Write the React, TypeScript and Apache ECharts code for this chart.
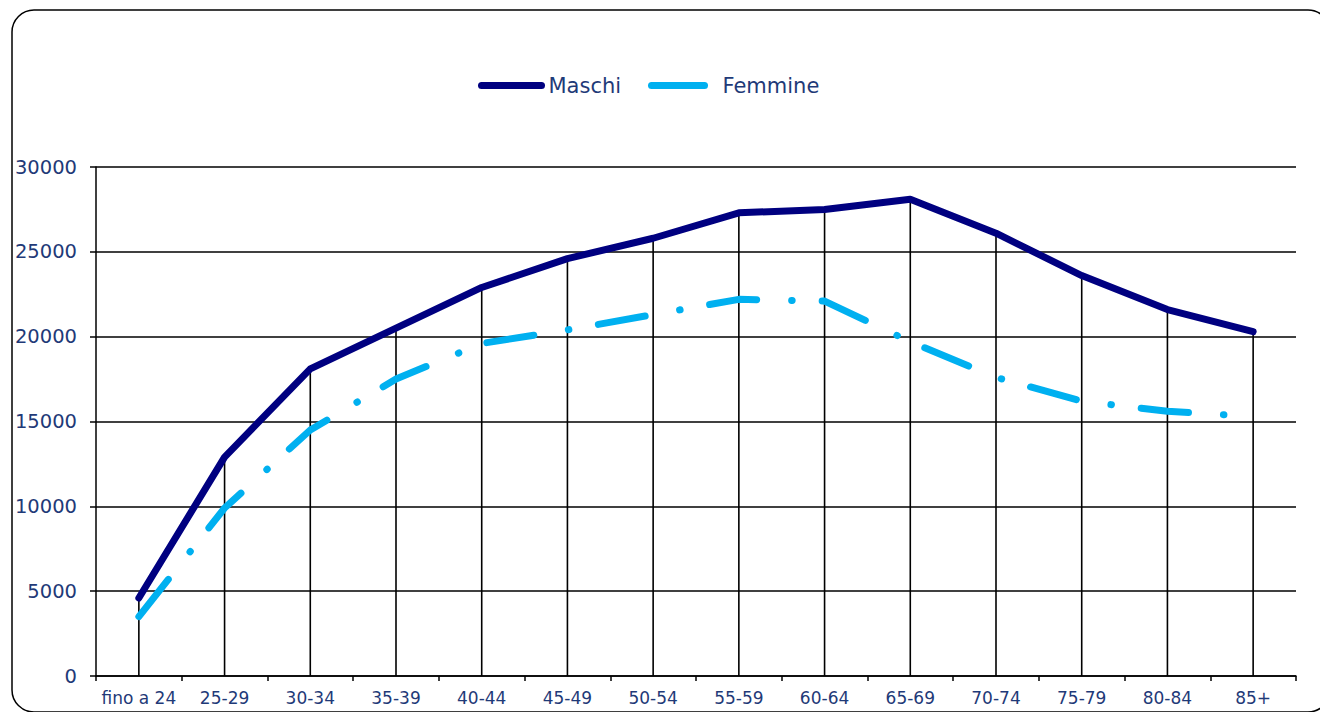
import React, { useEffect, useRef } from "react";
import * as echarts from "echarts";

const categories = [
  "fino a 24", "25-29", "30-34", "35-39", "40-44", "45-49", "50-54",
  "55-59", "60-64", "65-69", "70-74", "75-79", "80-84", "85+",
];
const maschi = [4600, 12900, 18100, 20500, 22900, 24600, 25800, 27300, 27500, 28100, 26100, 23600, 21600, 20300];
const femmine = [3500, 9900, 14500, 17500, 19600, 20400, 21300, 22200, 22100, 19700, 17600, 16200, 15600, 15300];
const yMin = 0;
const yMax = 30000;
const yStep = 5000;

const TEXT = "#1F3A78";
const FONT = "DejaVu Sans";

export default function App() {
  const ref = useRef<HTMLDivElement>(null);
  useEffect(() => {
    const chart = echarts.init(ref.current!, null, { renderer: "svg" });
    chart.setOption({
      animation: false,
      backgroundColor: "#ffffff",
      graphic: [
        {
          type: "rect",
          shape: { x: 12, y: 10, width: 1318, height: 702, r: 22 },
          style: { fill: "none", stroke: "#000", lineWidth: 1.5 },
          silent: true,
          z: 0,
        },
      ],
      legend: [
        {
          data: [{ name: "Maschi" }],
          left: 478,
          top: 75,
          padding: 0,
          itemWidth: 60,
          itemHeight: 21,
          itemStyle: { opacity: 0 },
          lineStyle: { width: 7, type: "solid", cap: "round", opacity: 1 },
          textStyle: { color: TEXT, fontFamily: FONT, fontSize: 21, lineHeight: 21, padding: [0, 0, 0, 2] },
        },
        {
          data: [{ name: "Femmine" }],
          left: 648,
          top: 75,
          padding: 0,
          itemWidth: 53,
          itemHeight: 21,
          itemStyle: { opacity: 0 },
          lineStyle: { width: 7, type: "solid", cap: "round", opacity: 1 },
          textStyle: { color: TEXT, fontFamily: FONT, fontSize: 21, lineHeight: 21, padding: [0, 0, 0, 13] },
        },
      ],
      grid: { left: 96, right: 24, top: 167, bottom: 36, containLabel: false },
      xAxis: {
        type: "category",
        data: categories,
        boundaryGap: true,
        axisLine: { show: true, lineStyle: { color: "#000", width: 1.5 } },
        axisTick: { show: true, alignWithLabel: false, length: 5, lineStyle: { color: "#000", width: 1.5 } },
        axisLabel: { color: TEXT, fontFamily: FONT, fontSize: 17, margin: 13, interval: 0 },
        splitLine: { show: false },
      },
      yAxis: {
        type: "value",
        min: yMin,
        max: yMax,
        interval: yStep,
        axisLine: { show: true, lineStyle: { color: "#000", width: 1.5 } },
        axisTick: { show: true, length: 6, lineStyle: { color: "#000", width: 1.5 } },
        axisLabel: { color: TEXT, fontFamily: FONT, fontSize: 19.5, margin: 19, formatter: (v: number) => String(v) },
        splitLine: { show: true, lineStyle: { color: "#000", width: 1.5 } },
      },
      series: [
        {
          name: "drop",
          type: "bar",
          data: maschi,
          barWidth: 1.6,
          itemStyle: { color: "#000" },
          z: 1,
          silent: true,
        },
        {
          name: "Maschi",
          type: "line",
          data: maschi,
          symbol: "none",
          lineStyle: { color: "#000080", width: 7, cap: "round", join: "round" },
          itemStyle: { color: "#000080" },
          z: 3,
        },
        {
          name: "Femmine",
          type: "line",
          data: femmine,
          symbol: "none",
          lineStyle: { color: "#00B0F0", width: 7, type: [47.5, 35, 0.5, 30], cap: "round", join: "round" },
          itemStyle: { color: "#00B0F0" },
          z: 4,
        },
      ],
    });
    return () => chart.dispose();
  }, []);
  return (
    <div
      ref={ref}
      style={{ position: "fixed", left: 0, top: 0, width: 1320, height: 712 }}
    />
  );
}
